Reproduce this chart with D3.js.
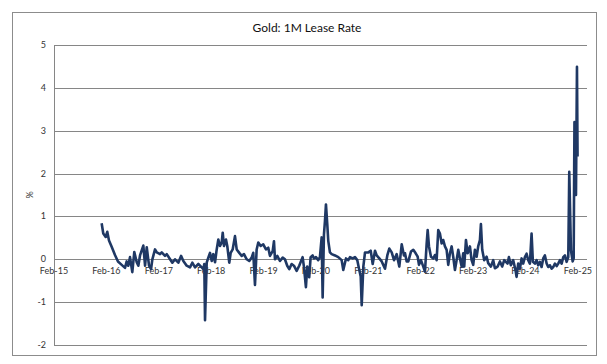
<!DOCTYPE html>
<html>
<head>
<meta charset="utf-8">
<script src="https://cdn.jsdelivr.net/npm/d3@7"></script>
<style>
  html, body { margin: 0; padding: 0; background: #fff; }
  svg { display: block; }
  text { font-family: Lato, "Open Sans", sans-serif; }
</style>
</head>
<body>
<svg id="chart" width="607" height="364"></svg>
<script>
// ---- Data (decimal years, lease rate %) ----
const times = [
  2015.995, 2016.026, 2016.072, 2016.102, 2016.135, 2016.186, 2016.249, 2016.306, 2016.377, 2016.440,
  2016.472, 2016.503, 2016.535, 2016.579, 2016.617, 2016.663, 2016.694, 2016.726, 2016.789, 2016.822,
  2016.854, 2016.898, 2016.936, 2016.961, 2017.012, 2017.045, 2017.108, 2017.140, 2017.203, 2017.236,
  2017.299, 2017.343, 2017.394, 2017.457, 2017.509, 2017.553, 2017.617, 2017.680, 2017.724, 2017.776,
  2017.839, 2017.904, 2017.934, 2017.953, 2017.967, 2017.999,
  2018.030, 2018.062, 2018.095, 2018.125, 2018.158, 2018.190, 2018.221, 2018.253, 2018.285, 2018.305,
  2018.329, 2018.367, 2018.392, 2018.430, 2018.457, 2018.495, 2018.539, 2018.572, 2018.621, 2018.667,
  2018.711, 2018.763, 2018.812, 2018.858, 2018.888, 2018.921, 2018.953, 2018.984,
  2019.030, 2019.079, 2019.131, 2019.175, 2019.207, 2019.259, 2019.284, 2019.303, 2019.347, 2019.398,
  2019.450, 2019.493, 2019.537, 2019.576, 2019.621, 2019.665, 2019.717, 2019.766,
  2019.831, 2019.856, 2019.894, 2019.919, 2019.957, 2019.984,
  2020.022, 2020.047, 2020.085, 2020.129, 2020.161, 2020.194, 2020.213, 2020.238, 2020.257, 2020.276,
  2020.301, 2020.320, 2020.352, 2020.385, 2020.448, 2020.511, 2020.575, 2020.606, 2020.658, 2020.701,
  2020.734, 2020.785, 2020.829, 2020.873, 2020.911, 2020.938, 2020.957, 2020.988,
  2021.020, 2021.083, 2021.129, 2021.167, 2021.211, 2021.243, 2021.293, 2021.339, 2021.369, 2021.402,
  2021.446, 2021.484, 2021.530, 2021.574, 2021.625, 2021.675, 2021.721, 2021.764, 2021.784, 2021.816,
  2021.847, 2021.898, 2021.942, 2021.988,
  2022.026, 2022.051, 2022.089, 2022.133, 2022.165, 2022.198, 2022.217, 2022.242, 2022.280, 2022.324,
  2022.356, 2022.388, 2022.419, 2022.451, 2022.484, 2022.514, 2022.547, 2022.579, 2022.610, 2022.642,
  2022.675, 2022.705, 2022.738, 2022.770, 2022.801, 2022.833, 2022.866, 2022.896, 2022.915, 2022.948,
  2022.980,
  2023.024, 2023.056, 2023.087, 2023.119, 2023.152, 2023.182, 2023.215, 2023.234, 2023.259, 2023.297,
  2023.343, 2023.373, 2023.425, 2023.469, 2023.501, 2023.553, 2023.597, 2023.640, 2023.679, 2023.743,
  2023.768, 2023.806, 2023.850, 2023.896, 2023.915, 2023.946, 2023.978,
  2024.011, 2024.041, 2024.074, 2024.106, 2024.137, 2024.169, 2024.201, 2024.226, 2024.264, 2024.297,
  2024.327, 2024.360, 2024.392, 2024.423, 2024.455, 2024.488, 2024.518, 2024.551, 2024.583, 2024.614,
  2024.646, 2024.679, 2024.709, 2024.742, 2024.774, 2024.805, 2024.837, 2024.869, 2024.900, 2024.919,
  2024.951, 2024.984, 2025.003, 2025.018, 2025.034, 2025.047, 2025.066, 2025.077
];
const rates = [
  0.84, 0.60, 0.52, 0.64, 0.44, 0.29, 0.10, -0.05, -0.13, -0.20,
  -0.05, -0.15, 0.05, -0.30, 0.17, -0.07, -0.15, 0.09, 0.32, -0.15,
  0.28, -0.15, -0.23, 0.00, 0.23, 0.16, 0.12, 0.16, 0.08, 0.12,
  0.00, -0.08, 0.00, -0.08, 0.08, -0.04, -0.15, -0.19, -0.08, -0.19,
  -0.11, -0.19, -0.23, -0.11, -1.42, -0.08,
  0.04, 0.15, -0.04, 0.12, -0.07, 0.23, 0.46, 0.31, 0.39, 0.62,
  0.31, 0.46, 0.31, -0.08, 0.15, 0.23, 0.54, 0.23, 0.15, 0.08,
  0.12, 0.00, -0.04, 0.04, 0.15, -0.60, 0.23, 0.39,
  0.31, 0.35, 0.23, 0.27, 0.08, 0.19, 0.42, 0.00, 0.08, -0.04,
  0.04, 0.00, -0.15, -0.23, -0.11, -0.15, -0.27, -0.15,
  0.05, -0.17, -0.65, -0.17, -0.42, 0.05,
  0.09, 0.02, 0.05, -0.02, 0.05, 0.51, -0.89, 0.58, 0.89, 1.28,
  0.82, 0.43, 0.16, 0.12, 0.09, 0.05, -0.02, -0.25, 0.02, -0.02,
  0.05, 0.02, 0.05, -0.02, -0.25, -0.40, -1.07, -0.17,
  0.16, 0.16, 0.20, -0.11, 0.20, 0.09, 0.02, -0.05, -0.13, -0.22,
  0.09, 0.25, 0.16, -0.02, 0.12, -0.17, 0.35, 0.09, 0.14, -0.05,
  -0.05, 0.18, 0.22, 0.14,
  0.06, -0.13, -0.02, -0.17, -0.29, 0.37, 0.68, 0.30, 0.06, 0.02,
  0.10, -0.02, 0.68, 0.60, 0.37, 0.45, 0.30, 0.22, -0.13, 0.14,
  0.30, 0.06, -0.25, -0.02, 0.22, 0.02, -0.17, 0.14, -0.17, 0.45,
  0.14,
  0.30, -0.02, -0.13, 0.22, 0.06, 0.30, 0.45, 0.82, 0.22, -0.02,
  0.06, -0.09, -0.17, -0.02, -0.21, -0.17, -0.05, -0.17, -0.02, -0.10,
  0.05, -0.14, -0.02, -0.26, -0.41, -0.10, -0.22,
  0.02, -0.10, 0.05, 0.13, -0.02, -0.10, 0.60, -0.06, -0.10, -0.02,
  -0.14, -0.06, -0.18, 0.02, 0.09, -0.10, -0.18, -0.14, -0.22, -0.18,
  -0.10, -0.16, -0.10, -0.02, -0.10, 0.05, 0.09, -0.06, 0.05, 2.04,
  0.21, -0.05, 0.02, 3.20, 2.30, 1.50, 4.49, 2.40
];
const yTicks = [-2, -1, 0, 1, 2, 3, 4, 5];
const xTickYears = [2015, 2016, 2017, 2018, 2019, 2020, 2021, 2022, 2023, 2024, 2025];
const chartTitle = "Gold: 1M Lease Rate";
const yTitle = "%";

// ---- Helpers ----
function decToDate(t) {
  const y = Math.floor(t);
  const s = Date.UTC(y, 0, 1), e = Date.UTC(y + 1, 0, 1);
  return new Date(s + (t - y) * (e - s));
}
const data = times.map((t, i) => ({ date: decToDate(t), v: rates[i] }));

// ---- Layout ----
const svg = d3.select("#chart");
const plot = { left: 54, right: 587, top: 45, bottom: 345 };

const x = d3.scaleUtc()
  .domain([new Date(Date.UTC(2015, 1, 1)), new Date(Date.UTC(2025, 3, 5))])
  .range([plot.left, plot.right]);
const y = d3.scaleLinear().domain([-2, 5]).range([plot.bottom, plot.top]);

// outer border
svg.append("rect")
  .attr("x", 12.5).attr("y", 12.5)
  .attr("width", 584).attr("height", 343)
  .attr("fill", "#fff").attr("stroke", "#8c8c8c").attr("stroke-width", 1);

// title
svg.append("text")
  .attr("x", 307).attr("y", 32)
  .attr("text-anchor", "middle")
  .attr("font-size", 12).attr("fill", "#111")
  .text(chartTitle);

// gridlines
svg.append("g").selectAll("line").data(yTicks).join("line")
  .attr("x1", plot.left).attr("x2", plot.right)
  .attr("y1", d => Math.round(y(d)) + 0.5).attr("y2", d => Math.round(y(d)) + 0.5)
  .attr("stroke", "#868686").attr("stroke-width", 1);

// y axis line
svg.append("line")
  .attr("x1", plot.left + 0.5).attr("x2", plot.left + 0.5)
  .attr("y1", plot.top).attr("y2", plot.bottom)
  .attr("stroke", "#868686").attr("stroke-width", 1);

// y tick labels
svg.append("g").selectAll("text").data(yTicks).join("text")
  .attr("x", 46).attr("y", d => y(d) + 3)
  .attr("text-anchor", "end")
  .attr("font-size", 9).attr("fill", "#333")
  .text(d => d);

// y title
svg.append("text")
  .attr("transform", "translate(33,195) rotate(-90)")
  .attr("text-anchor", "middle")
  .attr("font-size", 9).attr("fill", "#333")
  .text(yTitle);

// x tick labels (just below zero line)
const fmt = d3.utcFormat("%b-%y");
svg.append("g").selectAll("text").data(xTickYears).join("text")
  .attr("x", d => x(new Date(Date.UTC(d, 1, 1))))
  .attr("y", y(0) + 15)
  .attr("text-anchor", "middle")
  .attr("font-size", 9).attr("fill", "#333")
  .text(d => fmt(new Date(Date.UTC(d, 1, 1))));

// series line
const line = d3.line().x(d => x(d.date)).y(d => y(d.v));
svg.append("path")
  .datum(data)
  .attr("d", line)
  .attr("fill", "none")
  .attr("stroke", "#1f3864")
  .attr("stroke-width", 2.6)
  .attr("stroke-linejoin", "round");
</script>
</body>
</html>
